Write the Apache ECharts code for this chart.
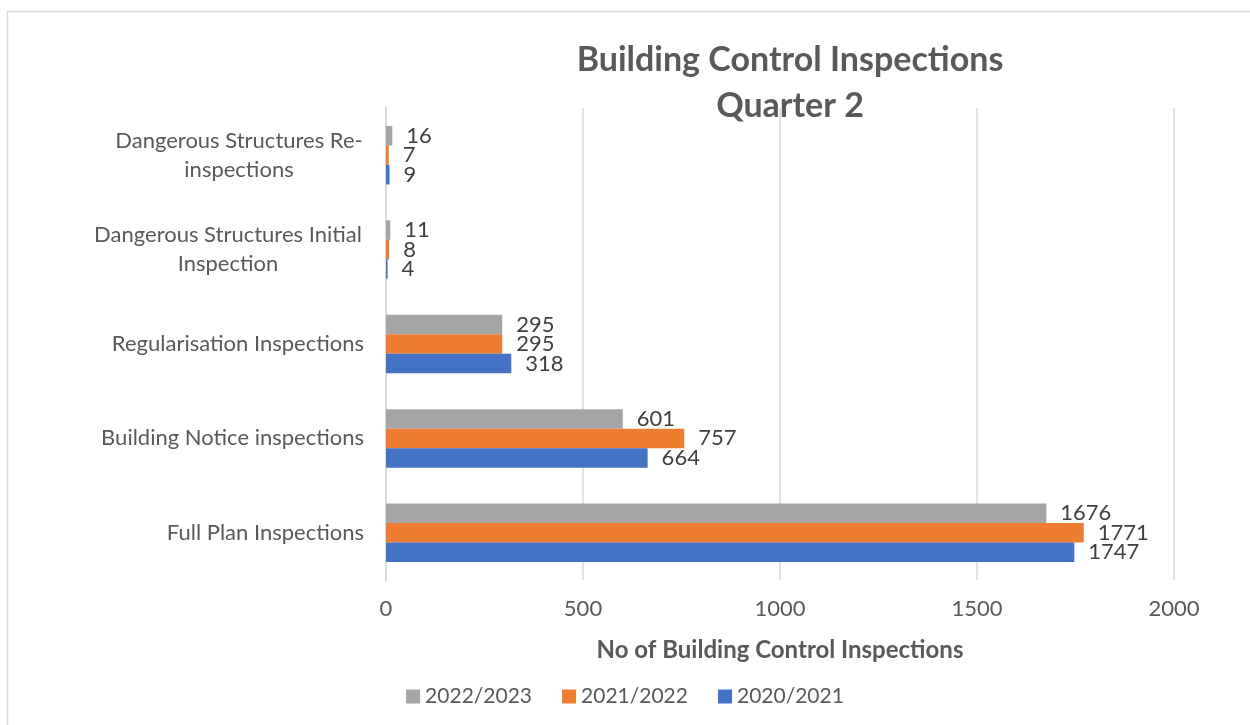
<!DOCTYPE html>
<html>
<head>
<meta charset="utf-8">
<script src="https://cdn.jsdelivr.net/npm/echarts@6/dist/echarts.min.js"></script>
<style>
  html, body { margin: 0; padding: 0; background: #fff; }
  #chart { width: 1250px; height: 725px; }
</style>
</head>
<body>
<div id="chart"></div>
<script>
// categories, bottom to top
const categories = [
    'Full Plan Inspections',
    'Building Notice inspections',
    'Regularisation Inspections',
    'Dangerous Structures Initial\nInspection',
    'Dangerous Structures Re-\ninspections'
]
// series in drawing order (top bar of each group first)
const seriesNames = ['2022/2023', '2021/2022', '2020/2021']
const values2022 = [1676, 601, 295, 11, 16]
const values2021 = [1771, 757, 295, 8, 7]
const values2020 = [1747, 664, 318, 4, 9]
const xTicks = [0, 500, 1000, 1500, 2000]

const font = 'Lato, "Liberation Sans", sans-serif'
const colors = ['#A5A5A5', '#ED7D31', '#4472C4']
const allValues = [values2022, values2021, values2020]

// rich-text widths so that wrapped labels are centred line by line
const wrapWidths = { 'Dangerous Structures Initial': 272, 'Dangerous Structures Re-': 250 }

let chart = echarts.init(document.getElementById('chart'))

let series = seriesNames.map((name, i) => {
    return {
        name: name,
        type: 'bar',
        data: allValues[i],
        itemStyle: { color: colors[i] },
        barGap: '0%',
        barCategoryGap: '38%',
        label: {
            show: true,
            position: 'right',
            distance: 14,
            color: '#404040',
            fontSize: 22,
            fontFamily: font,
        },
    }
})

chart.setOption({
    animation: false,
    backgroundColor: '#fff',
    graphic: [{
        type: 'rect',
        shape: { x: 7.5, y: 11.5, width: 1260, height: 730 },
        style: { fill: 'none', stroke: '#d9d9d9', lineWidth: 1.5 },
        silent: true,
    }],
    title: {
        text: 'Building Control Inspections\nQuarter 2',
        left: 785,
        textAlign: 'center',
        top: 32,
        textStyle: {
            fontFamily: font,
            fontSize: 34,
            fontWeight: 'bold',
            color: '#595959',
            lineHeight: 46,
        },
    },
    legend: {
        data: ['2022/2023', '2021/2022', '2020/2021'],
        left: 'center',
        top: 681,
        itemWidth: 14,
        itemHeight: 14,
        itemGap: 30,
        icon: 'rect',
        textStyle: { fontFamily: font, fontSize: 21, color: '#595959' },
    },
    grid: { left: 386, right: 76, top: 108, bottom: 145, containLabel: false },
    xAxis: {
        type: 'value',
        min: xTicks[0],
        max: xTicks[xTicks.length - 1],
        interval: 500,
        name: 'No of Building Control Inspections',
        nameLocation: 'middle',
        nameGap: 58,
        nameTextStyle: { fontFamily: font, fontSize: 24, fontWeight: 'bold', color: '#595959' },
        axisLine: { show: false },
        axisTick: { show: false },
        axisLabel: {
            fontFamily: font, fontSize: 22, color: '#595959', margin: 18,
            formatter: v => String(v),
        },
        splitLine: { lineStyle: { color: '#d9d9d9', width: 1.5 } },
    },
    yAxis: {
        type: 'category',
        data: categories,
        axisLine: { show: true, lineStyle: { color: '#d9d9d9', width: 2 } },
        axisTick: { show: false },
        axisLabel: {
            fontFamily: font,
            fontSize: 22,
            color: '#595959',
            margin: 22,
            lineHeight: 29,
            formatter: v => {
                let lines = v.split('\n')
                if (lines.length === 1) return v
                let key = lines[0] === 'Dangerous Structures Initial' ? 'a' : 'b'
                return lines.map(l => `{${key}|${l}}`).join('\n')
            },
            rich: {
                a: { width: wrapWidths['Dangerous Structures Initial'], align: 'center',
                     fontFamily: font, fontSize: 22, color: '#595959', lineHeight: 29 },
                b: { width: wrapWidths['Dangerous Structures Re-'], align: 'center',
                     fontFamily: font, fontSize: 22, color: '#595959', lineHeight: 29 },
            },
        },
    },
    series: series,
})
</script>
</body>
</html>
